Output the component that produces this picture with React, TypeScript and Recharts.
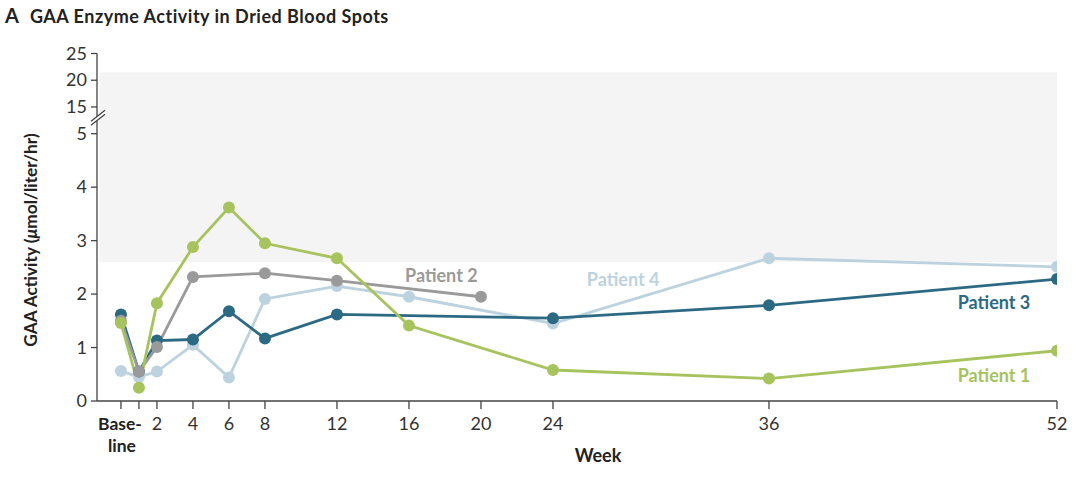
import React from 'react';
import { LineChart, Line, XAxis, YAxis, ReferenceArea, ReferenceDot } from 'recharts';

const weeks = [0, 1, 2, 4, 6, 8, 12, 16, 20, 24, 36, 52];
const patient1 = [1.46, 0.25, 1.83, 2.88, 3.62, 2.95, 2.67, 1.41, null, 0.58, 0.42, 0.94];
const patient2 = [1.5, 0.55, 1.01, 2.32, null, 2.39, 2.25, null, 1.95, null, null, null];
const patient3 = [1.62, 0.55, 1.13, 1.15, 1.68, 1.17, 1.62, null, null, 1.55, 1.79, 2.28];
const patient4 = [0.56, 0.45, 0.55, 1.05, 0.44, 1.91, 2.15, 1.95, null, 1.45, 2.67, 2.51];

const xTicks = [0, 1, 2, 4, 6, 8, 12, 16, 20, 24, 36, 52];
const xTickLabels = ['Base-|line', '', '2', '4', '6', '8', '12', '16', '20', '24', '36', '52'];
// y scale: 0-5 linear, above the break 15 -> 5.5, 20 -> 6, 25 -> 6.5
const yTicks = [0, 1, 2, 3, 4, 5, 5.5, 6, 6.5];
const yTickLabels = ['0', '1', '2', '3', '4', '5', '15', '20', '25'];

const normalLow = 2.6;
const normalHigh = 6.15;

const data = weeks.map((w, i) => ({
  week: w,
  p1: patient1[i],
  p2: patient2[i],
  p3: patient3[i],
  p4: patient4[i],
}));

const C1 = '#a6c35d';
const C2 = '#9a9a9a';
const C3 = '#2c6a84';
const C4 = '#bcd3df';
const AXIS = '#444';
const FONT = 'Lato, "Open Sans", sans-serif';

const XTick = (props: any) => {
  const { x, y, payload } = props;
  const idx = xTicks.indexOf(payload.value);
  const label = xTickLabels[idx] ?? '';
  if (label.includes('|')) {
    const [a, b] = label.split('|');
    return (
      <g>
        <text x={x - 1} y={y + 19} textAnchor="middle" fontFamily={FONT} fontWeight={700} fontSize={17.5} fill="#222">{a}</text>
        <text x={x + 1} y={y + 41} textAnchor="middle" fontFamily={FONT} fontWeight={700} fontSize={17.5} fill="#222">{b}</text>
      </g>
    );
  }
  return (
    <text x={x} y={y + 19} textAnchor="middle" fontFamily={FONT} fontSize={18} fill="#333">{label}</text>
  );
};

const YTick = (props: any) => {
  const { x, y, payload } = props;
  const idx = yTicks.indexOf(payload.value);
  return (
    <text x={x - 2} y={y + 6} textAnchor="end" fontFamily={FONT} fontSize={18} fill="#333">{yTickLabels[idx]}</text>
  );
};

const BreakMark = (props: any) => {
  const { cx, cy } = props;
  return (
    <g>
      <polygon points={`${cx - 6},${cy + 3} ${cx + 8},${cy - 8} ${cx + 8},${cy - 4} ${cx - 6},${cy + 7}`} fill="#fff" />
      <line x1={cx - 6} y1={cy + 3} x2={cx + 8} y2={cy - 8} stroke={AXIS} strokeWidth={1.3} />
      <line x1={cx - 6} y1={cy + 7} x2={cx + 8} y2={cy - 4} stroke={AXIS} strokeWidth={1.3} />
    </g>
  );
};

const makeLabel = (text: string, color: string) => (props: any) => (
  <text x={props.cx} y={props.cy} textAnchor="middle" dominantBaseline="central" fontFamily={FONT} fontWeight={700} fontSize={18} fill={color}>{text}</text>
);

const seriesDot = (color: string) => ({ r: 6, fill: color, stroke: color, strokeWidth: 0 });

export default function App() {
  return (
    <div style={{ position: 'absolute', left: 0, top: 0, width: 1080, height: 482, background: '#fff', fontFamily: FONT }}>
      <div style={{ position: 'absolute', left: 5, top: 3, fontSize: 20, fontWeight: 700, color: '#222', whiteSpace: 'nowrap' }}>
        <span>A</span>
        <span style={{ marginLeft: 11, fontSize: 18, letterSpacing: 0.5 }}>GAA Enzyme Activity in Dried Blood Spots</span>
      </div>
      <div style={{ position: 'absolute', left: 30, top: 240, width: 0, height: 0 }}>
        <div style={{ position: 'absolute', transform: 'translate(-50%, -50%) rotate(-90deg)', whiteSpace: 'nowrap', fontSize: 17.3, fontWeight: 700, color: '#222' }}>
          GAA Activity (<span style={{ fontStyle: 'italic' }}>μ</span>mol/liter/hr)
        </div>
      </div>
      <div style={{ position: 'absolute', left: 598, top: 455, width: 0, height: 0 }}>
        <div style={{ position: 'absolute', transform: 'translate(-50%, -50%)', whiteSpace: 'nowrap', fontSize: 18, fontWeight: 700, color: '#222' }}>Week</div>
      </div>
      <LineChart width={1080} height={482} data={data} margin={{ top: 53.5, right: 23, bottom: 51, left: 37 }}>
        <ReferenceArea x1={-1.2} x2={52} y1={normalLow} y2={normalHigh} fill="#f4f4f4" fillOpacity={1} stroke="none" ifOverflow="visible" />
        <XAxis
          dataKey="week"
          type="number"
          domain={[-1.33, 52]}
          ticks={xTicks}
          interval={0}
          tick={<XTick />}
          tickSize={8}
          tickLine={{ stroke: AXIS, strokeWidth: 1.3 }}
          axisLine={{ stroke: AXIS, strokeWidth: 1.3 }}
          height={30}
          allowDataOverflow
        />
        <YAxis
          type="number"
          domain={[0, 6.5]}
          ticks={yTicks}
          interval={0}
          tick={<YTick />}
          tickSize={6}
          tickLine={{ stroke: AXIS, strokeWidth: 1.3 }}
          axisLine={{ stroke: AXIS, strokeWidth: 1.3 }}
          width={60}
          allowDataOverflow
        />
        <ReferenceDot x={-1.33} y={5.29} r={0} shape={<BreakMark />} ifOverflow="visible" />
        <Line dataKey="p4" stroke={C4} strokeWidth={2.8} dot={seriesDot(C4)} activeDot={false} connectNulls isAnimationActive={false} />
        <Line dataKey="p3" stroke={C3} strokeWidth={2.8} dot={seriesDot(C3)} activeDot={false} connectNulls isAnimationActive={false} />
        <Line dataKey="p2" stroke={C2} strokeWidth={2.8} dot={seriesDot(C2)} activeDot={false} connectNulls isAnimationActive={false} />
        <Line dataKey="p1" stroke={C1} strokeWidth={2.8} dot={seriesDot(C1)} activeDot={false} connectNulls isAnimationActive={false} />
        <ReferenceDot x={17.8} y={2.36} r={0} shape={makeLabel('Patient 2', C2)} ifOverflow="visible" />
        <ReferenceDot x={27.9} y={2.29} r={0} shape={makeLabel('Patient 4', C4)} ifOverflow="visible" />
        <ReferenceDot x={48.5} y={1.85} r={0} shape={makeLabel('Patient 3', C3)} ifOverflow="visible" />
        <ReferenceDot x={48.5} y={0.48} r={0} shape={makeLabel('Patient 1', C1)} ifOverflow="visible" />
      </LineChart>
    </div>
  );
}
